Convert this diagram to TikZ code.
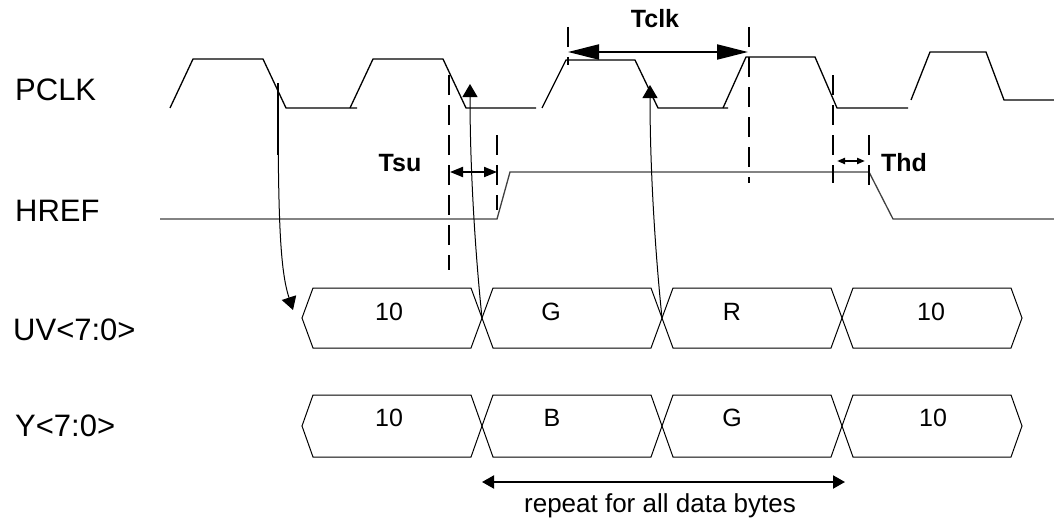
\documentclass[tikz,border=0pt]{standalone}
\usepackage{fontspec}
\setmainfont{Liberation Sans}
\usetikzlibrary{arrows.meta}
\begin{document}
\begin{tikzpicture}[x=1pt,y=-1pt,
  sig/.style={line width=1.3pt, line join=miter},
  hrefsig/.style={line width=1.3pt, draw=black!75},
  vdash/.style={line width=2pt, dash pattern=on 20pt off 10pt},
  lbl/.style={font=\fontsize{31}{31}\selectfont, anchor=west, inner sep=0pt},
  tlbl/.style={font=\fontsize{25}{25}\selectfont\bfseries, inner sep=0pt},
  dlbl/.style={font=\fontsize{25}{25}\selectfont, inner sep=0pt},
  databox/.style={line width=1pt},
  curv/.style={line width=1pt, -{Triangle[length=13pt,width=15pt]}},
  dim/.style={line width=2pt},
]
\useasboundingbox (0,0) rectangle (1054,519);

% signal labels
\node[lbl] (pclk) at (15,90) {PCLK};
\node[lbl] (href) at (15,211) {HREF};
\node[lbl] (uv) at (13,330) {UV<7:0>};
\node[lbl] (ylab) at (15,426) {Y<7:0>};

% PCLK waveform
\draw[sig] (170,108) -- (193,59) -- (263,59) -- (286,108) -- (357,108);
\draw[sig] (350,108) -- (373,59) -- (443,59) -- (466,108) -- (536,108);
\draw[sig] (542,108) -- (566,60) -- (635,60) -- (658,108) -- (728,108);
\draw[sig] (723,108) -- (746,57) -- (815,57) -- (837,108) -- (908,108);
\draw[sig] (911,100) -- (930,52) -- (986,52) -- (1004,100) -- (1054,100);

% HREF waveform
\draw[hrefsig] (160,219) -- (497,219) -- (510,172) -- (869,172) -- (893,219) -- (1054,219);

% data boxes
\foreach \ya/\yb/\ym in {288/348/318, 395/457/426}{
  \foreach \xa/\xb in {302/482, 482/662, 662/842, 842/1022}{
    \draw[databox] (\xa,\ym) -- (\xa+11,\ya) -- (\xb-11,\ya) -- (\xb,\ym)
      -- (\xb-11,\yb) -- (\xa+11,\yb) -- cycle;
  }
}
\node[dlbl] (uv1) at (389,312) {10};
\node[dlbl] (uv2) at (551,312) {G};
\node[dlbl] (uv3) at (732,312) {R};
\node[dlbl] (uv4) at (931,312) {10};
\node[dlbl] (y1) at (389,418) {10};
\node[dlbl] (y2) at (552,418) {B};
\node[dlbl] (y3) at (732,418) {G};
\node[dlbl] (y4) at (933,418) {10};

% dashed timing markers
\draw[vdash] (449,75) -- (449,270);
\draw[vdash] (497,135) -- (497,210);
\draw[vdash] (568,27) -- (568,65);
\draw[vdash] (749,27) -- (749,183);
\draw[vdash] (833,75) -- (833,183);
\draw[vdash] (869,135) -- (869,185);

% dimension arrows
\coordinate (tclkA) at (568,52);
\coordinate (tclkB) at (748,52);
\coordinate (tsuA) at (450,172);
\coordinate (tsuB) at (497,172);
\coordinate (thdA) at (837,161);
\coordinate (thdB) at (865,161);
\coordinate (repA) at (482,482);
\coordinate (repB) at (845,482);
\draw[dim, {Triangle[length=31pt,width=15pt]}-{Triangle[length=31pt,width=15pt]}] (tclkA) -- (tclkB);
\draw[dim, {Triangle[length=13pt,width=10pt]}-{Triangle[length=13pt,width=10pt]}] (tsuA) -- (tsuB);
\draw[dim, {Triangle[length=8pt,width=6pt]}-{Triangle[length=8pt,width=6pt]}] (thdA) -- (thdB);
\draw[dim, {Triangle[length=12pt,width=13pt]}-{Triangle[length=12pt,width=13pt]}] (repA) -- (repB);

\node[tlbl] (tclk) at (655,19) {Tclk};
\node[tlbl] (tsu) at (400,163) {Tsu};
\node[tlbl] (thd) at (904,163) {Thd};
\node[inner sep=0pt, anchor=north, font=\fontsize{26}{26}\selectfont] (rep) at (660,493) {repeat for all data bytes};

% causal curved arrows
\coordinate (c1s) at (278,83);
\coordinate (c1e) at (293,310);
\coordinate (c2s) at (482,318);
\coordinate (c2e) at (470,84);
\coordinate (c3s) at (662,318);
\coordinate (c3e) at (650,85);
\draw[line width=2pt] (c1s) -- (278,155);
\draw[curv] (c1s) .. controls (278,220) and (280,270) .. (c1e);
\draw[curv] (c2s) .. controls (474,240) and (470,160) .. (c2e);
\draw[curv] (c3s) .. controls (654,240) and (650,160) .. (c3e);
\end{tikzpicture}
\end{document}
